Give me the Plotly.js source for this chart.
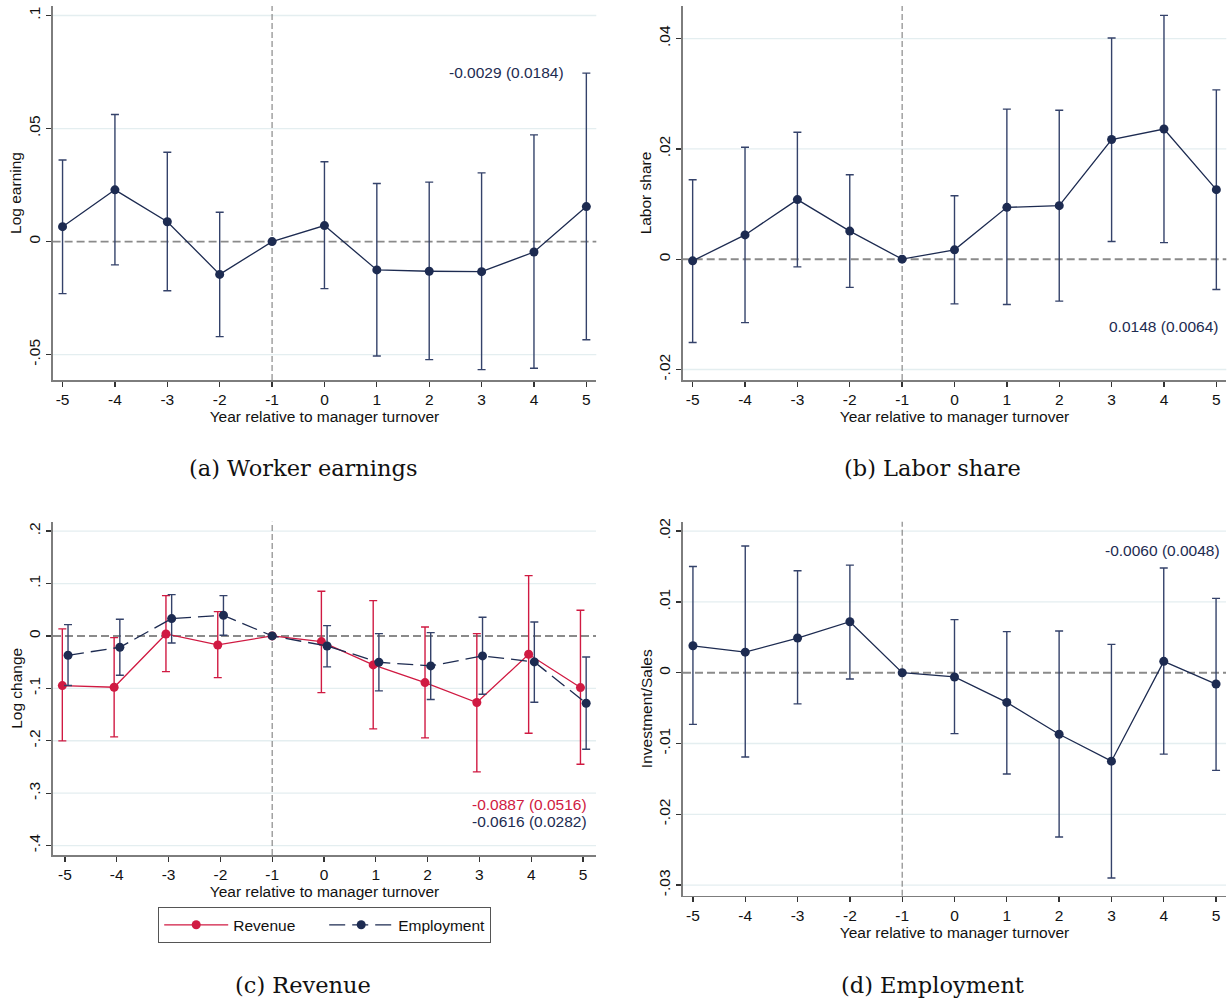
<!DOCTYPE html>
<html>
<head>
<meta charset="utf-8">
<script src="https://cdn.plot.ly/plotly-3.0.1.min.js"></script>
<style>
  html, body { margin: 0; padding: 0; background: #ffffff; }
  #chart { width: 1228px; height: 1000px; }
</style>
</head>
<body>
<div id="chart"></div>
<script>
// ---------------- DATA ----------------
const years = [-5, -4, -3, -2, -1, 0, 1, 2, 3, 4, 5];
const yearLabels = ["-5", "-4", "-3", "-2", "-1", "0", "1", "2", "3", "4", "5"];

// (a) Worker earnings
const earnCoef = [0.0066, 0.0229, 0.0088, -0.0145, 0, 0.0071, -0.0125, -0.0131, -0.0133, -0.0046, 0.0155];
const earnHi   = [0.0361, 0.0562, 0.0395, 0.0130, null, 0.0353, 0.0257, 0.0263, 0.0304, 0.0472, 0.0745];
const earnLo   = [-0.0230, -0.0103, -0.0217, -0.0420, null, -0.0208, -0.0506, -0.0522, -0.0566, -0.0560, -0.0434];

// (b) Labor share
const laborCoef = [-0.0003, 0.0044, 0.0108, 0.0051, 0, 0.0017, 0.0094, 0.0097, 0.0217, 0.0236, 0.0126];
const laborHi   = [0.0144, 0.0203, 0.0230, 0.0153, null, 0.0115, 0.0272, 0.0270, 0.0401, 0.0442, 0.0307];
const laborLo   = [-0.0151, -0.0115, -0.0014, -0.0051, null, -0.0081, -0.0082, -0.0076, 0.0032, 0.0030, -0.0055];

// (c) Revenue and Employment
const revCoef = [-0.0947, -0.0979, 0.0038, -0.0172, 0, -0.0108, -0.0553, -0.0890, -0.1271, -0.0350, -0.0985];
const revHi   = [0.0134, -0.0032, 0.0769, 0.0464, null, 0.0852, 0.0674, 0.0172, 0.0045, 0.1151, 0.0490];
const revLo   = [-0.2003, -0.1926, -0.0680, -0.0795, null, -0.1081, -0.1774, -0.1945, -0.2594, -0.1856, -0.2448];

const empCoef = [-0.0369, -0.0216, 0.0331, 0.0394, 0, -0.0191, -0.0502, -0.0572, -0.0381, -0.0496, -0.1284];
const empHi   = [0.0216, 0.0318, 0.0788, 0.0769, null, 0.0197, 0.0045, 0.0064, 0.0356, 0.0267, -0.0401];
const empLo   = [-0.0947, -0.0750, -0.0134, 0.0013, null, -0.0591, -0.1049, -0.1214, -0.1113, -0.1265, -0.2161];

// (d) Investment/Sales
const invCoef = [0.0038, 0.0029, 0.0049, 0.0072, 0, -0.0006, -0.0042, -0.0087, -0.0125, 0.0016, -0.0016];
const invHi   = [0.0150, 0.0179, 0.0144, 0.0152, null, 0.0075, 0.0058, 0.0059, 0.0040, 0.0148, 0.0105];
const invLo   = [-0.0073, -0.0119, -0.0044, -0.0009, null, -0.0086, -0.0143, -0.0232, -0.0290, -0.0115, -0.0138];

// Tick labels (Stata style)
const yTicksA = [-0.05, 0, 0.05, 0.1];
const yTextA  = ["-.05", "0", ".05", ".1"];
const yTicksB = [-0.02, 0, 0.02, 0.04];
const yTextB  = ["-.02", "0", ".02", ".04"];
const yTicksC = [-0.4, -0.3, -0.2, -0.1, 0, 0.1, 0.2];
const yTextC  = ["-.4", "-.3", "-.2", "-.1", "0", ".1", ".2"];
const yTicksD = [-0.03, -0.02, -0.01, 0, 0.01, 0.02];
const yTextD  = ["-.03", "-.02", "-.01", "0", ".01", ".02"];

const statA = "-0.0029 (0.0184)";
const statB = "0.0148 (0.0064)";
const statCrev = "-0.0887 (0.0516)";
const statCemp = "-0.0616 (0.0282)";
const statD = "-0.0060 (0.0048)";

const captions = ["(a) Worker earnings", "(b) Labor share", "(c) Revenue", "(d) Employment"];
const yTitles = ["Log earning", "Labor share", "Log change", "Investment/Sales"];
const xTitle = "Year relative to manager turnover";
const seriesNames = ["Revenue", "Employment"];

// ---------------- STYLE ----------------
const NAVY = "#1d2b51";
const NAVY_BAR = "#34426a";
const RED = "#d01a42";
const SANS = "Liberation Sans, Arial, Helvetica, sans-serif";
const SERIF = "DejaVu Serif, Liberation Serif, serif";
const FS = 15.5;
const W = 1228, H = 1000;
const revShift = -0.05, empShift = 0.06;

function errs(coef, hi, lo) {
  return {
    type: "data", symmetric: false,
    array: hi.map((v, i) => v === null ? NaN : v - coef[i]),
    arrayminus: lo.map((v, i) => v === null ? NaN : coef[i] - v),
    thickness: 1.4, width: 4
  };
}

function trace(xs, coef, hi, lo, color, barColor, dash, xa, ya, name, showlegend) {
  const e = errs(coef, hi, lo);
  e.color = barColor;
  return {
    type: "scatter", mode: "lines+markers",
    x: xs, y: coef, xaxis: xa, yaxis: ya, name: name, showlegend: showlegend,
    line: { color: color, width: 1.3, dash: dash },
    marker: { color: color, size: 9, symbol: "circle" },
    error_y: e, cliponaxis: false, hoverinfo: "skip"
  };
}

const data = [
  trace(years, earnCoef, earnHi, earnLo, NAVY, NAVY_BAR, "solid", "x", "y", "a", false),
  trace(years, laborCoef, laborHi, laborLo, NAVY, NAVY_BAR, "solid", "x2", "y2", "b", false),
  trace(years.map(v => v === -1 ? v : v + revShift), revCoef, revHi, revLo, RED, RED, "solid", "x3", "y3", seriesNames[0], true),
  trace(years.map(v => v === -1 ? v : v + empShift), empCoef, empHi, empLo, NAVY, NAVY_BAR, "16px,7px", "x3", "y3", seriesNames[1], true),
  trace(years, invCoef, invHi, invLo, NAVY, NAVY_BAR, "solid", "x4", "y4", "d", false)
];

function px(x) { return x / W; }
function py(y) { return 1 - y / H; }

function xax(left, right, range) {
  return {
    domain: [px(left), px(right)], range: range,
    tickmode: "array", tickvals: years, ticktext: yearLabels,
    showline: true, linecolor: "#7d7d7d", linewidth: 1.6,
    ticks: "outside", ticklen: 5, tickwidth: 1.3, tickcolor: "#333333",
    showgrid: false, zeroline: false, fixedrange: true,
    tickfont: { family: SANS, size: FS, color: "#111111" },
    title: { text: xTitle, font: { family: SANS, size: FS, color: "#111111" }, standoff: 0 }
  };
}
function yax(top, bottom, range, tv, tt, title, anchor) {
  return {
    domain: [py(bottom), py(top)], range: range, anchor: anchor,
    tickmode: "array", tickvals: tv, ticktext: tt, tickangle: -90,
    showline: true, linecolor: "#7d7d7d", linewidth: 1.6,
    ticks: "outside", ticklen: 5, tickwidth: 1.3, tickcolor: "#333333",
    showgrid: false, zeroline: false, fixedrange: true,
    tickfont: { family: SANS, size: FS, color: "#111111" },
    title: { text: title, font: { family: SANS, size: FS, color: "#111111" }, standoff: 0 }
  };
}

const layout = {
  width: W, height: H,
  margin: { l: 0, r: 0, t: 0, b: 0 },
  paper_bgcolor: "#ffffff", plot_bgcolor: "#ffffff",
  showlegend: true,
  legend: {
    orientation: "h", x: px(324.5), xanchor: "center", y: py(907), yanchor: "top",
    bordercolor: "#555555", borderwidth: 1.2, bgcolor: "#ffffff",
    font: { family: SANS, size: FS, color: "#111111" },
    entrywidth: 86, itemwidth: 64, tracegroupgap: 0
  },
  xaxis:  Object.assign(xax(52.6, 596.3, [-5.19, 5.19]), { anchor: "y" }),
  yaxis:  yax(6, 380, [-0.0612, 0.1042], yTicksA, yTextA, yTitles[0], "x"),
  xaxis2: Object.assign(xax(682.7, 1226.3, [-5.19, 5.19]), { anchor: "y2" }),
  yaxis2: yax(6, 380, [-0.0219, 0.0459], yTicksB, yTextB, yTitles[1], "x2"),
  xaxis3: Object.assign(xax(53, 596, [-5.23, 5.25]), { anchor: "y3" }),
  yaxis3: yax(521.7, 855, [-0.418, 0.218], yTicksC, yTextC, yTitles[2], "x3"),
  xaxis4: Object.assign(xax(683, 1226, [-5.19, 5.19]), { anchor: "y4" }),
  yaxis4: yax(521.7, 895.7, [-0.0315, 0.02133], yTicksD, yTextD, yTitles[3], "x4"),
  shapes: [],
  annotations: []
};

// light horizontal gridlines at the non-zero ticks, then the reference lines y = 0 and x = -1
[["x", "y", yTicksA], ["x2", "y2", yTicksB], ["x3", "y3", yTicksC], ["x4", "y4", yTicksD]].forEach(([xa, ya, tv]) => {
  tv.filter(v => v !== 0).forEach(v => {
    layout.shapes.push({
      type: "line", layer: "below", xref: xa + " domain", yref: ya,
      x0: 0, x1: 1, y0: v, y1: v,
      line: { color: "#e4eef0", width: 1.3 }
    });
  });
  layout.shapes.push({
    type: "line", layer: "below", xref: xa + " domain", yref: ya,
    x0: 0, x1: 1, y0: 0, y1: 0,
    line: { color: "#8a8a8a", width: 1.9, dash: "8px,4px" }
  });
  layout.shapes.push({
    type: "line", layer: "below", xref: xa, yref: ya + " domain",
    x0: -1, x1: -1, y0: 0, y1: 1,
    line: { color: "#7f7f7f", width: 1.1, dash: "6px,3px" }
  });
});

function note(text, x, y, color) {
  return { text: text, xref: "paper", yref: "paper", x: px(x), y: py(y),
    xanchor: "right", yanchor: "middle", showarrow: false,
    font: { family: SANS, size: FS, color: color } };
}
layout.annotations.push(note(statA, 566, 73, NAVY));
layout.annotations.push(note(statB, 1220, 327, NAVY));
layout.annotations.push(note(statCrev, 589, 804, RED));
layout.annotations.push(note(statCemp, 589, 821, NAVY));
layout.annotations.push(note(statD, 1222, 550, NAVY));

const capPos = [[303, 468], [932, 468], [303, 985], [932, 985]];
captions.forEach((c, i) => {
  layout.annotations.push({ text: c, xref: "paper", yref: "paper",
    x: px(capPos[i][0]), y: py(capPos[i][1]), xanchor: "center", yanchor: "middle",
    showarrow: false, font: { family: SERIF, size: 22.5, color: "#111111" } });
});

Plotly.newPlot("chart", data, layout, { displayModeBar: false, staticPlot: true });
</script>
</body>
</html>
